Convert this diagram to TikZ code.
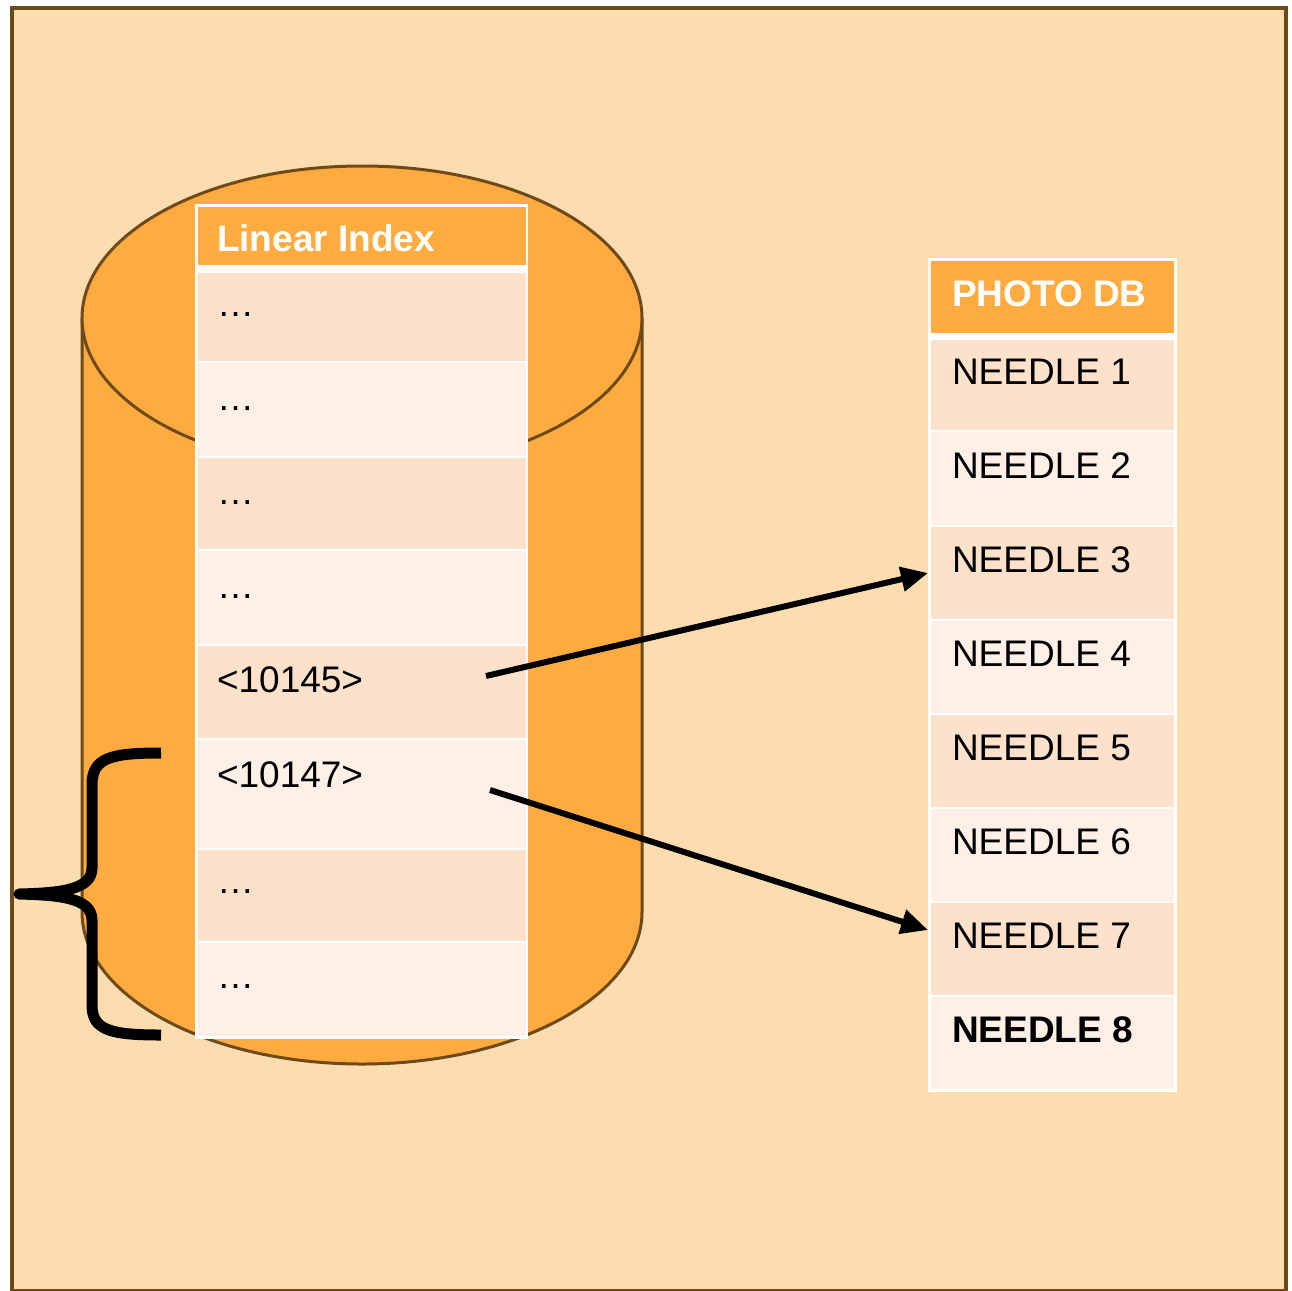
\documentclass[tikz,border=0pt]{standalone}
\usepackage{fontspec}
\setmainfont{Liberation Sans}
\usetikzlibrary{arrows.meta,calc}

\definecolor{bgpeach}{HTML}{FDDCB0}
\definecolor{framebrown}{HTML}{6E4A18}
\definecolor{cylorange}{HTML}{FFAB40}
\definecolor{rowdark}{HTML}{FDE1CB}
\definecolor{rowlight}{HTML}{FEF0E6}

\tikzset{
  cylline/.style={draw=framebrown, line width=3pt},
  tableback/.style={fill=white, draw=none},
  headcell/.style={fill=cylorange, draw=none},
  darkcell/.style={fill=rowdark, draw=none},
  lightcell/.style={fill=rowlight, draw=none},
  celltext/.style={anchor=base west, inner sep=0pt, outer sep=0pt,
    font=\fontsize{37}{44}\selectfont, text=black},
  headtext/.style={celltext, text=white, font=\fontsize{37}{44}\selectfont\bfseries},
  pointer/.style={line width=6pt, draw=black,
    -{Triangle[length=27pt, width=24pt]}},
  bracestyle/.style={line width=11pt, draw=black, line join=round, line cap=butt},
}

\begin{document}
\begin{tikzpicture}[x=1pt, y=-1pt]
  \useasboundingbox (0,0) rectangle (1292,1290);

  % page frame
  \draw[fill=bgpeach, draw=framebrown, line width=4pt] (12,8) rectangle (1285.5,1290.5);

  % cylinder body and rim
  \fill[cylorange] (82,318) -- (82,912)
    arc[start angle=180, end angle=360, x radius=280pt, y radius=152pt] -- (642,318) -- cycle;
  \draw[cylline] (82,318) -- (82,912)
    arc[start angle=180, end angle=360, x radius=280pt, y radius=152pt] -- (642,318);
  \draw[cylline, fill=cylorange] (362,318) ellipse [x radius=280pt, y radius=152pt];

  % ---- Linear Index table ----
  \fill[tableback] (195,204) rectangle (528,1039);
  \fill[headcell] (197.5,206.5) rectangle (525.5,265);
  \node[headtext] (Lhead) at (217,251) {Linear Index};

  \foreach \i/\ta/\tb/\sty/\base/\txt in {
      1/273/361/darkcell/316/…,
      2/363/456/lightcell/410/…,
      3/458/549/darkcell/504/…,
      4/551/644/lightcell/598/…,
      5/646/738/darkcell/692/<10145>,
      6/740/848/lightcell/787/<10147>,
      7/850/941/darkcell/893/…,
      8/943/1036/lightcell/988/…}{
    \fill[\sty] (197.5,\ta) rectangle (525.5,\tb);
    \node[celltext] (L\i) at (217,\base) {\txt};
  }

  % ---- Photo DB table ----
  \fill[tableback] (928,258) rectangle (1177,1092);
  \fill[headcell] (931,261) rectangle (1174,333);
  \node[headtext] (Phead) at (952,306) {PHOTO DB};

  \foreach \i/\ta/\tb/\sty in {
      1/340/430/darkcell,
      2/432/525/lightcell,
      3/527/619/darkcell,
      4/621/713/lightcell,
      5/715/807/darkcell,
      6/809/901/lightcell,
      7/903/995/darkcell,
      8/997/1089/lightcell}{
    \fill[\sty] (931,\ta) rectangle (1174,\tb);
  }
  \node[celltext] (P1) at (952,384) {NEEDLE 1};
  \node[celltext] (P2) at (952,478) {NEEDLE 2};
  \node[celltext] (P3) at (952,572) {NEEDLE 3};
  \node[celltext] (P4) at (952,666) {NEEDLE 4};
  \node[celltext] (P5) at (952,760) {NEEDLE 5};
  \node[celltext] (P6) at (952,854) {NEEDLE 6};
  \node[celltext] (P7) at (952,948) {NEEDLE 7};
  \node[celltext, font=\fontsize{37}{44}\selectfont\bfseries] (P8) at (952,1042) {NEEDLE 8};

  % pointers from index entries to needles
  \coordinate (k1) at (486,676);
  \coordinate (k2) at (490,790);
  \coordinate (n3) at (928,573);
  \coordinate (n7) at (928,930);
  \draw[pointer] (k1) -- (n3);
  \draw[pointer] (k2) -- (n7);

  % brace grouping the lower entries
  \coordinate (bt) at (161,753);
  \coordinate (bb) at (161,1035);
  \coordinate (btip) at (19,894);
  \draw[bracestyle] (bt) .. controls (110,753) and (92,758) .. (92,785)
    -- (92,868) .. controls (92,890) and (60,893) .. (btip)
    .. controls (60,895) and (92,898) .. (92,920)
    -- (92,1005) .. controls (92,1030) and (110,1035) .. (bb);
\end{tikzpicture}
\end{document}
